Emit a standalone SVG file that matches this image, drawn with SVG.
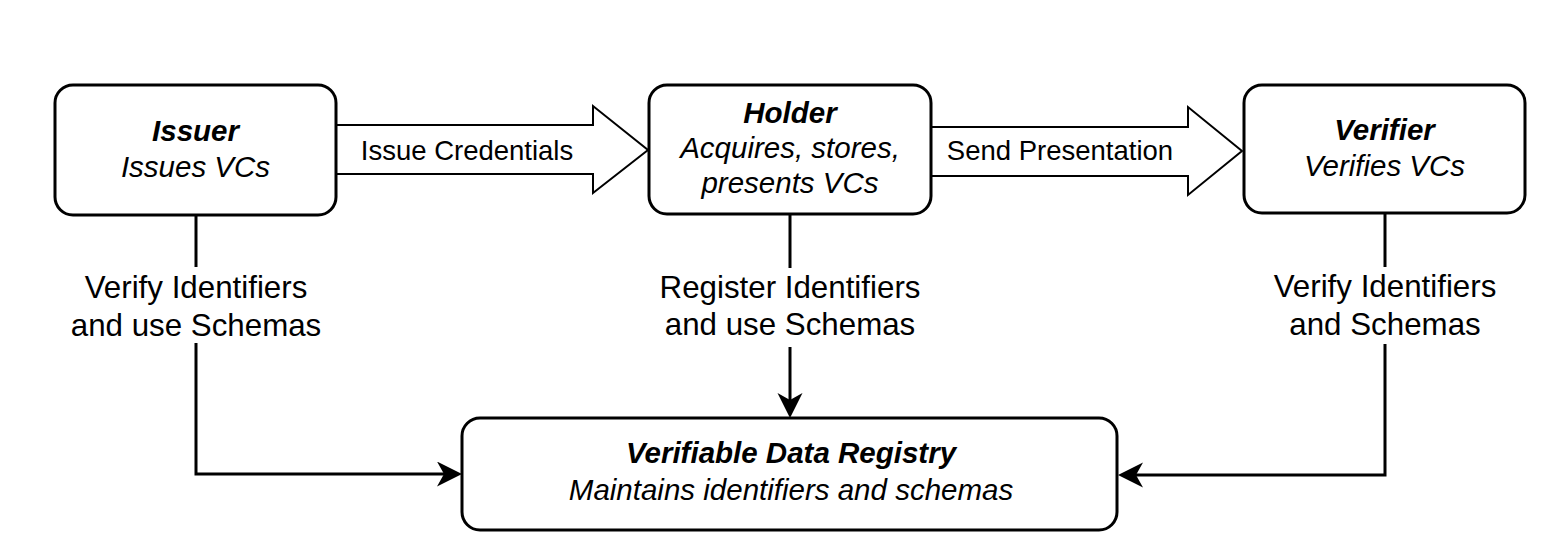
<svg xmlns="http://www.w3.org/2000/svg" width="1560" height="554" viewBox="0 0 1560 554">
<style>
.box{fill:#fff;stroke:#000;stroke-width:3}
.blk{fill:#fff;stroke:#000;stroke-width:2}
.ln{fill:none;stroke:#000;stroke-width:3}
text{font-family:"Liberation Sans",Arial,Helvetica,sans-serif;fill:#000;text-anchor:middle}
.t{font-size:29.5px;font-weight:bold;font-style:italic}
.s{font-size:29.5px;font-style:italic}
.lb{font-size:31.3px}
.al{font-size:27.5px}
</style>
<defs>
<marker id="arr" markerUnits="userSpaceOnUse" markerWidth="26" markerHeight="26" refX="17" refY="12.5" orient="auto">
<path d="M0,0 L25,12.5 L0,25 L7,12.5 Z" fill="#000"/>
</marker>
</defs>
<rect width="1560" height="554" fill="#fff"/>
<g id="connectors">
<g id="issue-credentials">
<path class="blk" d="M336,125 L593,125 L593,106 L648,150 L593,193 L593,174 L336,174 Z"/>
<text class="al" x="467" y="160">Issue Credentials</text>
</g>
<g id="send-presentation">
<path class="blk" d="M931,127 L1188,127 L1188,107 L1242,151 L1188,195 L1188,176 L931,176 Z"/>
<text class="al" x="1060" y="160">Send Presentation</text>
</g>
<g id="issuer-registry">
<path class="ln" d="M196,215 L196,267"/>
<path class="ln" d="M196,343 L196,474 L454,474" marker-end="url(#arr)"/>
<text class="lb" x="196" y="298">Verify Identifiers</text>
<text class="lb" x="196" y="336">and use Schemas</text>
</g>
<g id="holder-registry">
<path class="ln" d="M790,214 L790,268"/>
<path class="ln" d="M790,347 L790,410" marker-end="url(#arr)"/>
<text class="lb" x="790" y="298">Register Identifiers</text>
<text class="lb" x="790" y="335">and use Schemas</text>
</g>
<g id="verifier-registry">
<path class="ln" d="M1385,213 L1385,267"/>
<path class="ln" d="M1385,344 L1385,475 L1126,475" marker-end="url(#arr)"/>
<text class="lb" x="1385" y="297">Verify Identifiers</text>
<text class="lb" x="1385" y="335">and Schemas</text>
</g>
</g>
<g id="issuer">
<rect class="box" x="55" y="85" width="281" height="130" rx="18"/>
<text class="t" x="195.5" y="141">Issuer</text>
<text class="s" x="195.5" y="177">Issues VCs</text>
</g>
<g id="holder">
<rect class="box" x="649" y="85" width="282" height="129" rx="18"/>
<text class="t" x="790" y="123">Holder</text>
<text class="s" x="790" y="158">Acquires, stores,</text>
<text class="s" x="790" y="193">presents VCs</text>
</g>
<g id="verifier">
<rect class="box" x="1244" y="85" width="281" height="128" rx="18"/>
<text class="t" x="1384.5" y="140">Verifier</text>
<text class="s" x="1384.5" y="176">Verifies VCs</text>
</g>
<g id="registry">
<rect class="box" x="462" y="418" width="655" height="112" rx="18"/>
<text class="t" x="791" y="463">Verifiable Data Registry</text>
<text class="s" x="791" y="500">Maintains identifiers and schemas</text>
</g>
</svg>
